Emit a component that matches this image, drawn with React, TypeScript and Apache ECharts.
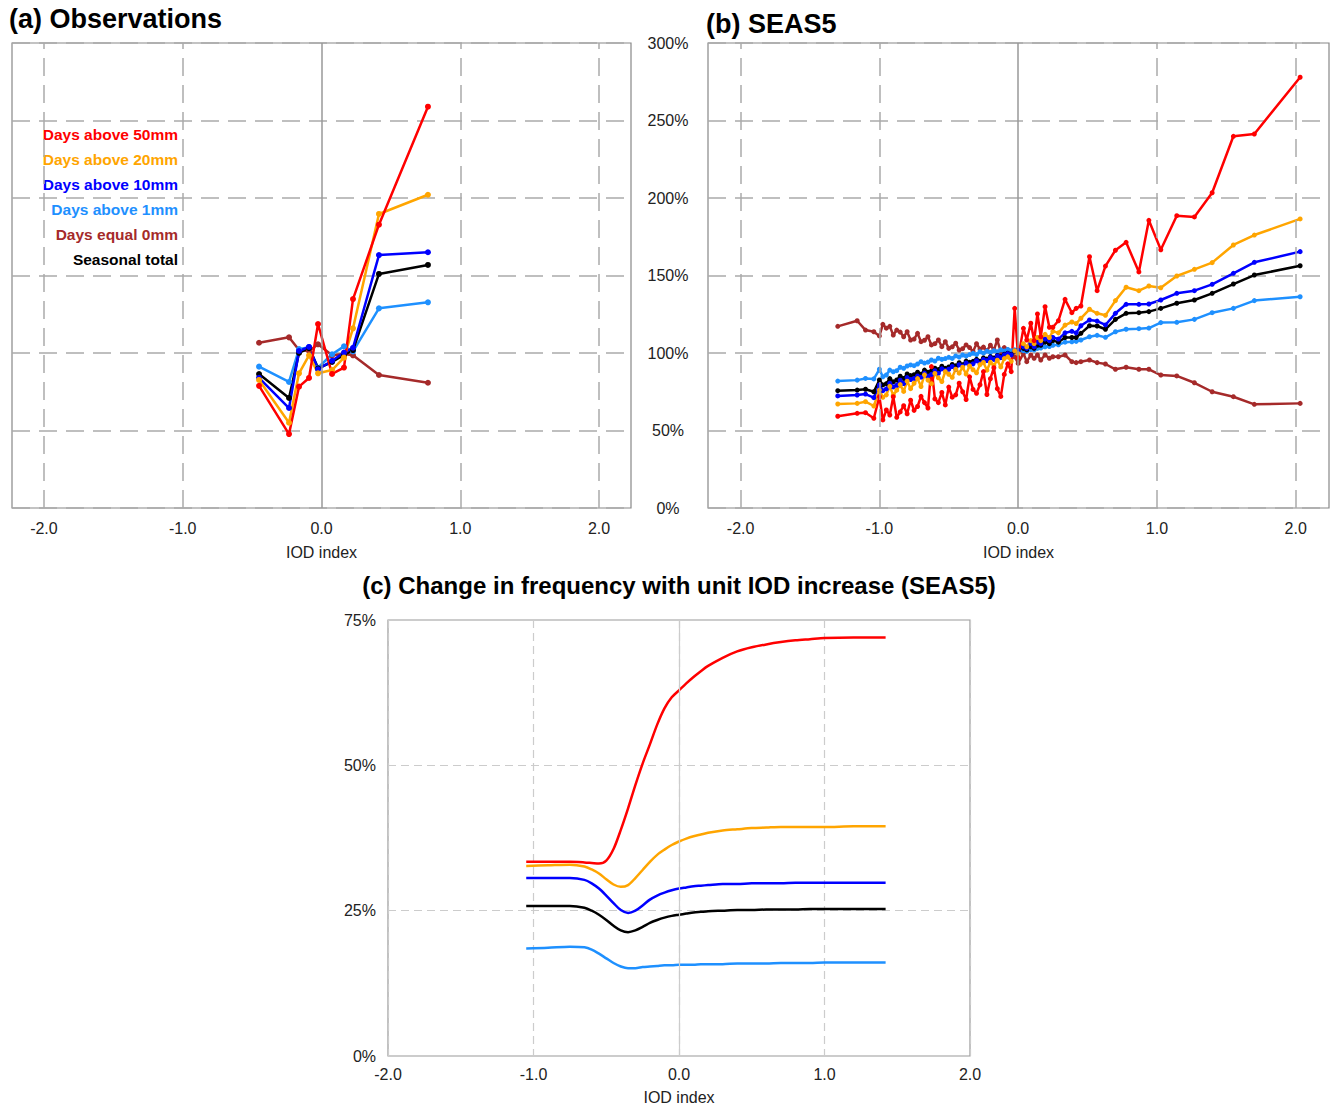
import { useEffect, useRef } from "react";
import * as echarts from "echarts";

const FONT = '"Liberation Sans", Arial, Helvetica, sans-serif';

// ---------- names / colours ----------
const seriesNames = [
  "Days above 50mm",
  "Days above 20mm",
  "Days above 10mm",
  "Days above 1mm",
  "Days equal 0mm",
  "Seasonal total",
];
const seriesColors = ["#ff0000", "#ffa500", "#0000ff", "#1e90ff", "#a52a2a", "#000000"];

// ---------- axis ticks ----------
const xTickValues = [-2, -1, 0, 1, 2];
const xGridDashed = [-2, -1, 1, 2];

// ---------- (a) Observations ----------
const xObs = [-0.45, -0.234, -0.162, -0.09, -0.025, 0.076, 0.162, 0.227, 0.414, 0.767];
const obs50 = [78.8, 47.7, 78.3, 83.9, 118.7, 86.5, 90.6, 134.8, 182.8, 258.9];
const obs20 = [82.6, 55.0, 86.9, 98.5, 86.9, 89.0, 97.0, 115.9, 189.7, 202.1];
const obs10 = [84.0, 64.5, 101.3, 103.9, 89.5, 95.0, 100.3, 103.4, 163.2, 165.0];
const obs1 = [91.2, 81.3, 102.5, 103.8, 90.5, 99.2, 104.3, 101.0, 128.8, 132.7];
const obs0 = [106.6, 110.1, 101.9, 101.3, 105.6, 98.5, 99.4, 98.5, 85.8, 80.8];
const obsTotal = [86.4, 71.0, 100.0, 103.2, 90.1, 94.2, 98.7, 101.9, 151.0, 156.8];

// ---------- (b) SEAS5 ----------
const xSeas = [
  -1.3, -1.16, -1.1, -1.04, -1.0,
  -0.975, -0.95, -0.925, -0.9, -0.875, -0.85, -0.825, -0.8, -0.775, -0.75,
  -0.725, -0.7, -0.675, -0.65, -0.625, -0.6, -0.575, -0.55, -0.525, -0.5,
  -0.475, -0.45, -0.425, -0.4, -0.375, -0.35, -0.325, -0.3, -0.275, -0.25,
  -0.225, -0.2, -0.175, -0.15, -0.125, -0.1, -0.075, -0.05, -0.025, 0.0,
  0.038, 0.062, 0.091, 0.115, 0.139, 0.163, 0.194, 0.225, 0.25, 0.29, 0.338, 0.387, 0.418, 0.452,
  0.514, 0.569, 0.629, 0.701, 0.778, 0.87, 0.942, 1.028, 1.143, 1.27, 1.398, 1.551, 1.702, 2.032,
];
const seas50 = [
  59.2, 61.1, 61.5, 57.9, 71.8,
  56.8, 63.2, 60.0, 71.8, 58.5, 62.0, 66.0, 60.8, 69.5, 63.0,
  65.5, 72.0, 68.0, 64.5, 91.2, 70.4, 68.0, 74.5, 66.5, 78.0,
  71.5, 73.0, 80.5, 75.0, 70.0, 84.6, 76.5, 74.0, 79.5, 88.0,
  73.2, 83.4, 90.5, 77.0, 72.0, 86.2, 93.0, 88.0, 128.8, 97.0,
  115.9, 108.4, 119.2, 108.0, 125.2, 110.5, 129.9, 116.6, 116.6, 120.8, 134.6, 126.0, 128.8, 130.3,
  162.1, 140.2, 156.1, 166.3, 171.4, 152.3, 185.6, 166.6, 188.6, 187.8, 203.4, 239.8, 241.3, 277.9,
];
const seas20 = [
  67.1, 67.5, 68.6, 65.8, 76.1,
  71.4, 73.0, 78.5, 72.8, 76.0, 79.6, 75.2, 81.8, 77.0, 80.5,
  83.5, 78.4, 85.9, 82.5, 80.2, 86.8, 84.0, 81.6, 88.0, 86.3,
  84.3, 89.5, 87.0, 90.8, 86.4, 91.6, 89.2, 87.2, 92.5, 93.9,
  88.9, 94.0, 92.1, 95.3, 91.0, 96.4, 97.5, 94.6, 101.5, 99.6,
  106.0, 104.0, 108.0, 106.0, 110.0, 108.0, 112.0, 110.0, 114.0, 113.0, 118.0, 120.0, 119.0, 122.4,
  128.2, 125.6, 124.3, 133.8, 142.4, 140.2, 143.2, 142.1, 149.7, 154.0, 158.3, 169.7, 176.1, 186.5,
];
const seas10 = [
  72.3, 72.9, 73.5, 71.2, 79.4,
  75.7, 76.8, 80.5, 78.1, 79.2, 82.4, 80.3, 84.1, 82.9, 83.6,
  85.2, 84.4, 87.0, 85.1, 86.2, 88.6, 86.9, 89.8, 88.7, 89.5,
  91.3, 89.6, 92.4, 91.5, 93.6, 92.2, 93.0, 95.0, 93.4, 95.8,
  95.1, 97.0, 95.9, 98.1, 97.0, 98.8, 99.6, 98.8, 101.4, 101.6,
  104.0, 103.0, 106.0, 104.0, 107.0, 106.0, 109.0, 108.0, 110.0, 109.0, 113.0, 114.0, 113.0, 117.6,
  121.3, 120.6, 118.1, 125.6, 131.4, 131.4, 131.6, 134.2, 138.5, 140.2, 144.3, 151.4, 158.5, 165.4,
];
const seas1 = [
  81.9, 82.5, 83.6, 83.3, 89.5,
  84.7, 85.8, 89.0, 87.9, 88.6, 90.8, 90.1, 91.6, 92.3, 91.8,
  92.9, 94.4, 93.5, 94.1, 95.5, 94.8, 96.6, 95.9, 96.4, 97.2,
  96.5, 98.1, 97.4, 98.7, 98.0, 99.0, 99.8, 99.0, 100.8, 99.9,
  101.2, 100.3, 101.5, 100.8, 102.0, 101.2, 102.3, 101.5, 102.0, 101.0,
  101.5, 101.0, 102.2, 102.0, 103.0, 103.2, 104.0, 104.2, 105.0, 105.3, 107.0, 107.2, 107.5, 108.4,
  110.5, 111.4, 110.1, 113.7, 115.3, 115.7, 116.1, 119.6, 119.8, 121.7, 126.0, 128.8, 133.8, 136.3,
];
const seas0 = [
  117.2, 120.8, 114.8, 113.7, 111.0,
  118.5, 116.0, 117.2, 111.6, 114.8, 113.5, 110.5, 113.7, 108.4, 109.0,
  112.7, 107.3, 108.2, 110.5, 105.2, 106.0, 108.4, 104.1, 107.3, 103.0,
  104.0, 106.3, 101.9, 102.8, 105.2, 103.5, 101.0, 106.0, 102.5, 103.8,
  101.5, 105.0, 102.0, 108.4, 100.5, 103.5, 102.0, 99.0, 97.6, 93.3,
  99.8, 94.4, 98.7, 96.6, 98.7, 95.5, 98.7, 96.6, 97.6, 97.6, 98.7, 94.4, 93.8, 94.4,
  95.5, 93.8, 92.9, 89.5, 90.8, 89.5, 89.5, 85.8, 85.2, 80.8, 75.0, 71.8, 66.9, 67.5,
];
const seasTotal = [
  75.7, 76.1, 76.6, 75.0, 82.6,
  79.4, 80.2, 83.5, 81.4, 82.6, 85.0, 83.6, 86.5, 85.4, 86.0,
  87.6, 86.3, 89.0, 87.6, 88.4, 90.2, 89.3, 91.5, 90.1, 91.0,
  92.6, 91.7, 93.7, 92.4, 94.8, 94.0, 94.6, 95.9, 94.7, 96.8,
  96.1, 97.6, 96.8, 98.4, 97.7, 99.2, 99.9, 99.2, 101.2, 101.5,
  103.0, 102.0, 104.0, 103.0, 105.0, 105.0, 107.0, 106.0, 108.0, 107.0, 110.0, 110.0, 110.0, 112.7,
  117.6, 117.4, 115.3, 121.7, 125.6, 126.0, 126.7, 128.8, 132.1, 134.2, 138.5, 144.5, 150.3, 156.3,
];

// ---------- (c) change per unit IOD ----------
const xChange = [
  -1.05, -0.9, -0.75, -0.65, -0.6, -0.55, -0.5, -0.45, -0.4, -0.35, -0.3, -0.25, -0.2, -0.15, -0.1, -0.05,
  0.0, 0.05, 0.1, 0.15, 0.2, 0.3, 0.4, 0.5, 0.6, 0.7, 0.8, 0.9, 1.0, 1.2, 1.42,
];
const chg50 = [
  33.4, 33.4, 33.4, 33.3, 33.2, 33.1, 33.6, 35.6, 38.9, 42.6, 46.6, 50.3, 53.6, 57.0, 59.8, 61.7,
  62.9, 64.1, 65.2, 66.2, 67.1, 68.5, 69.6, 70.3, 70.8, 71.2, 71.5, 71.7, 71.9, 72.0, 72.0,
];
const chg20 = [
  32.7, 32.8, 32.9, 32.6, 32.1, 31.4, 30.4, 29.5, 29.1, 29.4, 30.6, 32.0, 33.4, 34.6, 35.5, 36.3,
  36.9, 37.4, 37.8, 38.1, 38.4, 38.8, 39.0, 39.2, 39.3, 39.4, 39.4, 39.4, 39.4, 39.5, 39.5,
];
const chg10 = [
  30.6, 30.6, 30.6, 30.3, 29.7, 28.8, 27.6, 26.3, 25.1, 24.6, 25.0, 25.9, 26.9, 27.6, 28.1, 28.5,
  28.8, 29.0, 29.2, 29.3, 29.4, 29.6, 29.6, 29.7, 29.7, 29.7, 29.8, 29.8, 29.8, 29.8, 29.8,
];
const chg1 = [
  18.5, 18.6, 18.8, 18.7, 18.3, 17.6, 16.8, 16.0, 15.4, 15.1, 15.1, 15.3, 15.4, 15.5, 15.6, 15.6,
  15.7, 15.7, 15.7, 15.8, 15.8, 15.8, 15.9, 15.9, 15.9, 16.0, 16.0, 16.0, 16.1, 16.1, 16.1,
];
const chgTotal = [
  25.8, 25.8, 25.8, 25.5, 25.0, 24.3, 23.4, 22.4, 21.6, 21.3, 21.6, 22.2, 22.9, 23.4, 23.8, 24.1,
  24.3, 24.5, 24.7, 24.8, 24.9, 25.0, 25.1, 25.1, 25.2, 25.2, 25.2, 25.3, 25.3, 25.3, 25.3,
];

const pair = (xs: number[], ys: number[]) => xs.map((x, i) => [x, ys[i]]);

export default function App() {
  const ref = useRef<HTMLDivElement>(null);

  useEffect(() => {
    if (!ref.current) return;
    const chart = echarts.init(ref.current, undefined, { renderer: "svg" });

    const dashAB = { type: [18, 9] as any, color: "#aaaaaa", width: 1.5 };
    const dashC = { type: [8, 5] as any, color: "#cccccc", width: 1.2 };

    const gridMarkSeries = (xi: number, dashed: number[], style: any, zeroColor: string) => ({
      type: "line",
      xAxisIndex: xi,
      yAxisIndex: xi,
      data: [],
      z: 1,
      silent: true,
      markLine: {
        silent: true,
        symbol: ["none", "none"],
        label: { show: false },
        animation: false,
        lineStyle: style,
        data: [
          ...dashed.map((v) => ({ xAxis: v, lineStyle: style })),
          { xAxis: 0, lineStyle: { type: "solid", color: zeroColor, width: style.width } },
        ],
      },
    });

    const mkPointSeries = (xi: number, name: string, color: string, xs: number[], ys: number[], size: number) => ({
      type: "line",
      name,
      xAxisIndex: xi,
      yAxisIndex: xi,
      data: pair(xs, ys),
      symbol: "circle",
      symbolSize: size,
      showSymbol: true,
      z: 3,
      lineStyle: { color, width: 2.5 },
      itemStyle: { color },
      emphasis: { disabled: true },
    });

    const mkSmoothSeries = (name: string, color: string, ys: number[]) => ({
      type: "line",
      name,
      xAxisIndex: 2,
      yAxisIndex: 2,
      data: pair(xChange, ys),
      smooth: 0.3,
      showSymbol: false,
      symbol: "none",
      z: 3,
      lineStyle: { color, width: 2.5 },
      emphasis: { disabled: true },
    });

    // draw order: brown, light blue, black, blue, orange, red (red on top)
    const obsData = [obs50, obs20, obs10, obs1, obs0, obsTotal];
    const seasData = [seas50, seas20, seas10, seas1, seas0, seasTotal];
    const order = [4, 3, 5, 2, 1, 0];

    const xAxisAB = (gridIndex: number, min: number, max: number) => ({
      type: "value",
      gridIndex,
      min,
      max,
      axisLine: { show: false },
      axisTick: { show: false },
      splitLine: { show: false },
      axisLabel: {
        customValues: xTickValues,
        formatter: (v: number) => v.toFixed(1),
        fontSize: 16,
        fontFamily: FONT,
        color: "#222",
        margin: 12,
      },
      name: "IOD index",
      nameLocation: "middle",
      nameGap: 36,
      nameTextStyle: { fontSize: 16, fontFamily: FONT, color: "#222" },
    });

    const option: any = {
      animation: false,
      backgroundColor: "#ffffff",
      textStyle: { fontFamily: FONT },
      grid: [
        { left: 12, top: 43, width: 619, height: 465, show: true, borderColor: "#888", borderWidth: 1.2, backgroundColor: "transparent" },
        { left: 708, top: 43, width: 621, height: 465, show: true, borderColor: "#888", borderWidth: 1.2, backgroundColor: "transparent" },
        { left: 388, top: 620, width: 582, height: 436, show: true, borderColor: "#999", borderWidth: 1.2, backgroundColor: "transparent" },
      ],
      xAxis: [
        xAxisAB(0, -2.23, 2.23),
        xAxisAB(1, -2.235, 2.24),
        {
          type: "value",
          gridIndex: 2,
          min: -2,
          max: 2,
          interval: 1,
          axisLine: { show: false },
          axisTick: { show: false },
          splitLine: { show: true, lineStyle: dashC },
          axisLabel: {
            formatter: (v: number) => v.toFixed(1),
            fontSize: 16,
            fontFamily: FONT,
            color: "#222",
            margin: 10,
          },
          name: "IOD index",
          nameLocation: "middle",
          nameGap: 33,
          nameTextStyle: { fontSize: 16, fontFamily: FONT, color: "#222" },
        },
      ],
      yAxis: [
        {
          type: "value",
          gridIndex: 0,
          min: 0,
          max: 300,
          interval: 50,
          axisLine: { show: false },
          axisTick: { show: false },
          axisLabel: { show: false },
          splitLine: { show: true, lineStyle: dashAB },
        },
        {
          type: "value",
          gridIndex: 1,
          min: 0,
          max: 300,
          interval: 50,
          axisLine: { show: false },
          axisTick: { show: false },
          axisLabel: {
            formatter: "{value}%",
            align: "center",
            margin: 40,
            fontSize: 16,
            fontFamily: FONT,
            color: "#222",
          },
          splitLine: { show: true, lineStyle: dashAB },
        },
        {
          type: "value",
          gridIndex: 2,
          min: 0,
          max: 75,
          interval: 25,
          axisLine: { show: false },
          axisTick: { show: false },
          axisLabel: {
            formatter: "{value}%",
            margin: 12,
            fontSize: 16,
            fontFamily: FONT,
            color: "#222",
          },
          splitLine: { show: true, lineStyle: dashC },
        },
      ],
      series: [
        gridMarkSeries(0, xGridDashed, dashAB, "#999999"),
        gridMarkSeries(1, xGridDashed, dashAB, "#999999"),
        {
          type: "line",
          xAxisIndex: 2,
          yAxisIndex: 2,
          data: [],
          z: 1,
          silent: true,
          markLine: {
            silent: true,
            symbol: ["none", "none"],
            label: { show: false },
            animation: false,
            data: [{ xAxis: 0, lineStyle: { type: "solid", color: "#cccccc", width: 1.2 } }],
          },
        },
        ...order.map((i) => mkPointSeries(0, seriesNames[i], seriesColors[i], xObs, obsData[i], 6)),
        ...order.map((i) => mkPointSeries(1, seriesNames[i], seriesColors[i], xSeas, seasData[i], 5)),
        mkSmoothSeries(seriesNames[3], seriesColors[3], chg1),
        mkSmoothSeries(seriesNames[5], seriesColors[5], chgTotal),
        mkSmoothSeries(seriesNames[2], seriesColors[2], chg10),
        mkSmoothSeries(seriesNames[1], seriesColors[1], chg20),
        mkSmoothSeries(seriesNames[0], seriesColors[0], chg50),
      ],
      graphic: [
        {
          type: "text",
          x: 9,
          y: 19,
          style: { text: "(a) Observations", font: `bold 27px ${FONT}`, fill: "#000", verticalAlign: "middle" },
        },
        {
          type: "text",
          x: 706,
          y: 24,
          style: { text: "(b) SEAS5", font: `bold 27px ${FONT}`, fill: "#000", verticalAlign: "middle" },
        },
        {
          type: "text",
          x: 679,
          y: 585,
          style: {
            text: "(c) Change in frequency with unit IOD increase (SEAS5)",
            font: `bold 24px ${FONT}`,
            fill: "#000",
            align: "center",
            verticalAlign: "middle",
          },
        },
        ...seriesNames.map((n, i) => ({
          type: "text",
          x: 178,
          y: 134 + i * 25.1,
          style: {
            text: n,
            font: `bold 15.5px ${FONT}`,
            fill: seriesColors[i],
            align: "right",
            verticalAlign: "middle",
          },
        })),
      ],
    };

    chart.setOption(option);
    return () => chart.dispose();
  }, []);

  return (
    <div
      ref={ref}
      style={{ position: "absolute", left: 0, top: 0, width: 1330, height: 1108, background: "#fff" }}
    />
  );
}
